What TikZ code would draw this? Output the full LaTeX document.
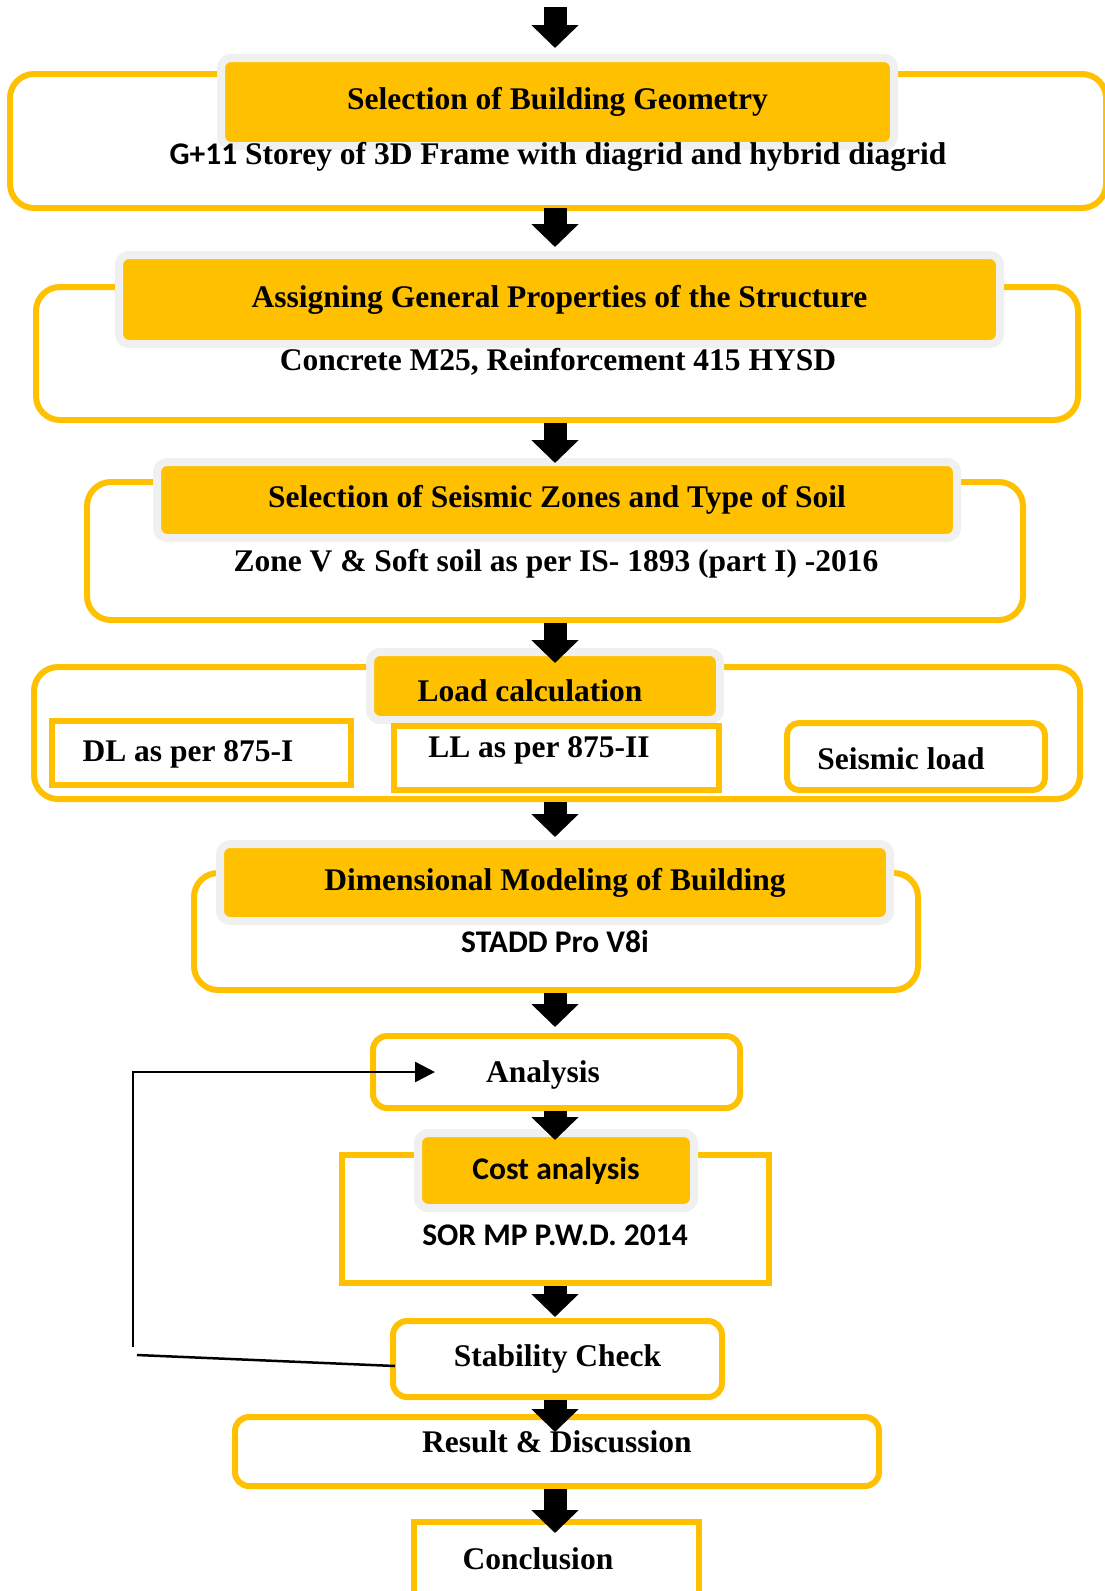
\documentclass[tikz,border=0pt]{standalone}
\usepackage{fontspec}
\setmainfont{Liberation Serif}
\newfontfamily\calibri{Carlito}
\usetikzlibrary{arrows.meta}
\definecolor{ylw}{HTML}{FFC000}
\definecolor{halo}{HTML}{F0F0F0}
\tikzset{
  outerbox/.style={draw=ylw, line width=6pt, fill=white, rounded corners=24pt, inner sep=0pt},
  smallbox/.style={draw=ylw, line width=6pt, fill=white, rounded corners=14pt, inner sep=0pt},
  sharpbox/.style={draw=ylw, line width=6pt, fill=white, inner sep=0pt},
  headbox/.style={draw=halo, line width=8pt, fill=ylw, rounded corners=10pt, inner sep=0pt},
  bigarrow/.style={line width=23pt, -{Triangle[width=46pt,length=23pt]}},
  backarrow/.style={line width=2.5pt, -{Triangle[width=20pt,length=20pt]}}
}
\begin{document}
\begin{tikzpicture}[x=1pt, y=1pt, font=\fontsize{31.5}{36}\selectfont\bfseries]
	\useasboundingbox (0,0) rectangle (1105,-1591);
	\coordinate (spine) at (555,0);
	\coordinate (start) at (555,-7);

	% geometry
	\node[outerbox, minimum width=1096pt, minimum height=134pt] (geomBox) at (558,-141) {};
	\node[headbox, minimum width=673pt, minimum height=88pt] (geomHead) at (557.5,-102) {Selection of Building Geometry};
	\node (geomSub) at (558,-157) {{\calibri G+11} Storey of 3D Frame with diagrid and hybrid diagrid};

	% properties
	\node[outerbox, minimum width=1042pt, minimum height=133pt] (propBox) at (557,-353.5) {};
	\node[headbox, minimum width=881pt, minimum height=89pt] (propHead) at (559.5,-299.5) {Assigning General Properties of the Structure};
	\node (propSub) at (558,-362) {Concrete M25, Reinforcement 415 HYSD};

	% seismic zone
	\node[outerbox, minimum width=936pt, minimum height=138pt] (zoneBox) at (555,-551) {};
	\node[headbox, minimum width=800pt, minimum height=76pt] (zoneHead) at (557,-500) {Selection of Seismic Zones and Type of Soil};
	\node (zoneSub) at (556,-564) {Zone V \& Soft soil as per IS- 1893 (part I) -2016};

	% loads
	\node[outerbox, minimum width=1046pt, minimum height=132pt] (loadBox) at (557,-733) {};
	\node[headbox, minimum width=350pt, minimum height=68pt] (loadHead) at (545,-686) {};
	\node (loadLbl) at (530,-691) {Load calculation};
	\node[sharpbox, minimum width=299pt, minimum height=64pt] (dl) at (201.5,-753) {};
	\node (dlLbl) at (188,-754) {DL as per 875-I};
	\node[sharpbox, minimum width=325pt, minimum height=64pt] (ll) at (556.5,-758) {};
	\node (llLbl) at (539,-750) {LL as per 875-II};
	\node[smallbox, rounded corners=12pt, minimum width=258pt, minimum height=67pt] (seis) at (916,-756.5) {};
	\node (seisLbl) at (901,-759) {Seismic load};

	% model
	\node[outerbox, minimum width=724pt, minimum height=117pt] (modelBox) at (556,-931.5) {};
	\node[headbox, minimum width=670pt, minimum height=77pt] (modelHead) at (555,-882.5) {Dimensional Modeling of Building};
	\node (modelSub) at (555,-942) {\calibri STADD Pro V8i};

	% analysis
	\node[smallbox, minimum width=367pt, minimum height=72pt] (analysis) at (556.5,-1072) {};
	\node (anLbl) at (543,-1075) {Analysis};

	% cost
	\node[sharpbox, minimum width=427pt, minimum height=128pt] (costBox) at (555.5,-1219) {};
	\node[headbox, minimum width=276pt, minimum height=75pt] (costHead) at (556,-1170.5) {\calibri Cost analysis};
	\node (costSub) at (555,-1235) {\calibri SOR MP P.W.D. 2014};

	% stability, result, conclusion
	\node[smallbox, minimum width=329pt, minimum height=76pt] (stab) at (557.5,-1359) {Stability Check};
	\node[smallbox, minimum width=644pt, minimum height=69pt] (result) at (557,-1451.5) {};
	\node (resLbl) at (557,-1442) {Result \& Discussion};
	\node[sharpbox, minimum width=285pt, minimum height=78pt] (concl) at (556.5,-1561) {};
	\node (conLbl) at (538,-1559) {Conclusion};

	% main arrows
	\draw[bigarrow, shorten >=6pt] (start) -- (geomHead.north -| spine);
	\draw[bigarrow, shorten >=4pt, shorten <=-3pt] (geomBox.south -| spine) -- (propHead.north -| spine);
	\draw[bigarrow, shorten >=-5pt] (propBox.south -| spine) -- (zoneHead.north -| spine);
	\draw[bigarrow, shorten >=-15pt] (zoneBox.south -| spine) -- (loadHead.north -| spine);
	\draw[bigarrow, shorten >=3pt] (loadBox.south -| spine) -- (modelHead.north -| spine);
	\draw[bigarrow, shorten >=6pt] (modelBox.south -| spine) -- (analysis.north -| spine);
	\draw[bigarrow, shorten >=-11pt] (analysis.south -| spine) -- (costHead.north -| spine);
	\draw[bigarrow, shorten >=1pt] (costBox.south -| spine) -- (stab.north -| spine);
	\draw[bigarrow, shorten >=-18pt] (stab.south -| spine) -- (result.north -| spine);
	\draw[bigarrow, shorten >=-14pt] (result.south -| spine) -- (concl.north -| spine);

	% feedback from stability check to analysis
	\coordinate (fbA) at (137,-1355);
	\coordinate (fbB) at (133,-1347);
	\draw[line width=2.5pt] ([xshift=5pt, yshift=-7pt]stab.west) -- (fbA);
	\draw[backarrow] (fbB) -- (fbB |- analysis.west) -- ([xshift=65pt]analysis.west);
\end{tikzpicture}
\end{document}
